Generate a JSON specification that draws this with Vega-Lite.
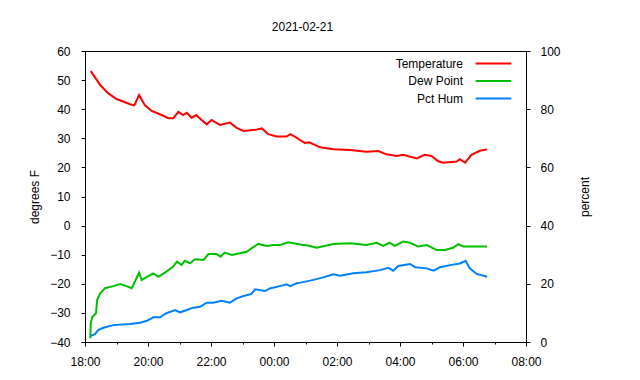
{
  "$schema": "https://vega.github.io/schema/vega-lite/v6.json",
  "width": 441,
  "height": 291,
  "autosize": {"type": "none"},
  "padding": {"left": 85, "top": 51, "right": 114, "bottom": 38},
  "background": "white",
  "title": {"text": "2021-02-21", "font": "Liberation Sans", "fontSize": 12, "fontWeight": "normal", "color": "black", "anchor": "middle", "offset": 11, "dx": -3},
  "config": {
    "view": {"stroke": "black", "strokeWidth": 1},
    "axis": {"grid": false, "domainColor": "black", "tickColor": "black", "labelColor": "black", "titleColor": "black", "labelFont": "Liberation Sans", "titleFont": "Liberation Sans", "labelFontSize": 12, "titleFontSize": 12, "titleFontWeight": "normal", "tickSize": 4, "domainWidth": 1, "tickWidth": 1}
  },
  "data": {
    "values": [
      {"time": "2021-02-21T18:11Z", "series": "Temperature", "value": 53.1},
      {"time": "2021-02-21T18:29Z", "series": "Temperature", "value": 48.3},
      {"time": "2021-02-21T18:44Z", "series": "Temperature", "value": 45.5},
      {"time": "2021-02-21T19:00Z", "series": "Temperature", "value": 43.5},
      {"time": "2021-02-21T19:26Z", "series": "Temperature", "value": 41.7},
      {"time": "2021-02-21T19:34Z", "series": "Temperature", "value": 41.3},
      {"time": "2021-02-21T19:43Z", "series": "Temperature", "value": 44.9},
      {"time": "2021-02-21T19:54Z", "series": "Temperature", "value": 41.4},
      {"time": "2021-02-21T20:07Z", "series": "Temperature", "value": 39.4},
      {"time": "2021-02-21T20:26Z", "series": "Temperature", "value": 38.0},
      {"time": "2021-02-21T20:39Z", "series": "Temperature", "value": 36.9},
      {"time": "2021-02-21T20:48Z", "series": "Temperature", "value": 36.9},
      {"time": "2021-02-21T20:58Z", "series": "Temperature", "value": 39.1},
      {"time": "2021-02-21T21:07Z", "series": "Temperature", "value": 38.0},
      {"time": "2021-02-21T21:14Z", "series": "Temperature", "value": 38.8},
      {"time": "2021-02-21T21:23Z", "series": "Temperature", "value": 37.1},
      {"time": "2021-02-21T21:32Z", "series": "Temperature", "value": 38.0},
      {"time": "2021-02-21T21:42Z", "series": "Temperature", "value": 36.3},
      {"time": "2021-02-21T21:52Z", "series": "Temperature", "value": 34.8},
      {"time": "2021-02-21T22:01Z", "series": "Temperature", "value": 36.3},
      {"time": "2021-02-21T22:17Z", "series": "Temperature", "value": 34.6},
      {"time": "2021-02-21T22:36Z", "series": "Temperature", "value": 35.4},
      {"time": "2021-02-21T22:49Z", "series": "Temperature", "value": 33.6},
      {"time": "2021-02-21T23:02Z", "series": "Temperature", "value": 32.5},
      {"time": "2021-02-21T23:24Z", "series": "Temperature", "value": 32.9},
      {"time": "2021-02-21T23:37Z", "series": "Temperature", "value": 33.4},
      {"time": "2021-02-21T23:49Z", "series": "Temperature", "value": 31.4},
      {"time": "2021-02-22T00:05Z", "series": "Temperature", "value": 30.6},
      {"time": "2021-02-22T00:24Z", "series": "Temperature", "value": 30.6},
      {"time": "2021-02-22T00:31Z", "series": "Temperature", "value": 31.4},
      {"time": "2021-02-22T00:43Z", "series": "Temperature", "value": 30.2},
      {"time": "2021-02-22T00:53Z", "series": "Temperature", "value": 29.0},
      {"time": "2021-02-22T00:59Z", "series": "Temperature", "value": 28.4},
      {"time": "2021-02-22T01:07Z", "series": "Temperature", "value": 28.6},
      {"time": "2021-02-22T01:28Z", "series": "Temperature", "value": 26.9},
      {"time": "2021-02-22T01:53Z", "series": "Temperature", "value": 26.2},
      {"time": "2021-02-22T02:25Z", "series": "Temperature", "value": 26.0},
      {"time": "2021-02-22T02:56Z", "series": "Temperature", "value": 25.4},
      {"time": "2021-02-22T03:19Z", "series": "Temperature", "value": 25.6},
      {"time": "2021-02-22T03:34Z", "series": "Temperature", "value": 24.5},
      {"time": "2021-02-22T03:54Z", "series": "Temperature", "value": 23.9},
      {"time": "2021-02-22T04:06Z", "series": "Temperature", "value": 24.3},
      {"time": "2021-02-22T04:32Z", "series": "Temperature", "value": 23.1},
      {"time": "2021-02-22T04:47Z", "series": "Temperature", "value": 24.3},
      {"time": "2021-02-22T05:00Z", "series": "Temperature", "value": 23.9},
      {"time": "2021-02-22T05:12Z", "series": "Temperature", "value": 22.2},
      {"time": "2021-02-22T05:22Z", "series": "Temperature", "value": 21.6},
      {"time": "2021-02-22T05:48Z", "series": "Temperature", "value": 22.0},
      {"time": "2021-02-22T05:54Z", "series": "Temperature", "value": 22.8},
      {"time": "2021-02-22T06:04Z", "series": "Temperature", "value": 21.6},
      {"time": "2021-02-22T06:16Z", "series": "Temperature", "value": 24.3},
      {"time": "2021-02-22T06:32Z", "series": "Temperature", "value": 25.7},
      {"time": "2021-02-22T06:46Z", "series": "Temperature", "value": 26.2},
      {"time": "2021-02-21T18:10Z", "series": "Dew Point", "value": -38.7},
      {"time": "2021-02-21T18:11Z", "series": "Dew Point", "value": -33.6},
      {"time": "2021-02-21T18:14Z", "series": "Dew Point", "value": -31.3},
      {"time": "2021-02-21T18:21Z", "series": "Dew Point", "value": -30.1},
      {"time": "2021-02-21T18:23Z", "series": "Dew Point", "value": -25.6},
      {"time": "2021-02-21T18:29Z", "series": "Dew Point", "value": -23.3},
      {"time": "2021-02-21T18:38Z", "series": "Dew Point", "value": -21.5},
      {"time": "2021-02-21T18:54Z", "series": "Dew Point", "value": -20.8},
      {"time": "2021-02-21T19:07Z", "series": "Dew Point", "value": -20.1},
      {"time": "2021-02-21T19:19Z", "series": "Dew Point", "value": -20.8},
      {"time": "2021-02-21T19:29Z", "series": "Dew Point", "value": -21.5},
      {"time": "2021-02-21T19:35Z", "series": "Dew Point", "value": -19.3},
      {"time": "2021-02-21T19:43Z", "series": "Dew Point", "value": -16.2},
      {"time": "2021-02-21T19:48Z", "series": "Dew Point", "value": -18.7},
      {"time": "2021-02-21T19:58Z", "series": "Dew Point", "value": -17.6},
      {"time": "2021-02-21T20:10Z", "series": "Dew Point", "value": -16.4},
      {"time": "2021-02-21T20:20Z", "series": "Dew Point", "value": -17.6},
      {"time": "2021-02-21T20:35Z", "series": "Dew Point", "value": -15.8},
      {"time": "2021-02-21T20:48Z", "series": "Dew Point", "value": -14.1},
      {"time": "2021-02-21T20:55Z", "series": "Dew Point", "value": -12.4},
      {"time": "2021-02-21T21:04Z", "series": "Dew Point", "value": -13.5},
      {"time": "2021-02-21T21:10Z", "series": "Dew Point", "value": -12.1},
      {"time": "2021-02-21T21:20Z", "series": "Dew Point", "value": -13.0},
      {"time": "2021-02-21T21:29Z", "series": "Dew Point", "value": -11.6},
      {"time": "2021-02-21T21:46Z", "series": "Dew Point", "value": -11.8},
      {"time": "2021-02-21T21:55Z", "series": "Dew Point", "value": -9.8},
      {"time": "2021-02-21T22:11Z", "series": "Dew Point", "value": -9.8},
      {"time": "2021-02-21T22:18Z", "series": "Dew Point", "value": -10.7},
      {"time": "2021-02-21T22:26Z", "series": "Dew Point", "value": -9.3},
      {"time": "2021-02-21T22:40Z", "series": "Dew Point", "value": -10.1},
      {"time": "2021-02-21T22:55Z", "series": "Dew Point", "value": -9.5},
      {"time": "2021-02-21T23:08Z", "series": "Dew Point", "value": -9.0},
      {"time": "2021-02-21T23:17Z", "series": "Dew Point", "value": -7.8},
      {"time": "2021-02-21T23:30Z", "series": "Dew Point", "value": -6.3},
      {"time": "2021-02-21T23:46Z", "series": "Dew Point", "value": -7.0},
      {"time": "2021-02-21T23:59Z", "series": "Dew Point", "value": -6.7},
      {"time": "2021-02-22T00:11Z", "series": "Dew Point", "value": -6.7},
      {"time": "2021-02-22T00:27Z", "series": "Dew Point", "value": -5.7},
      {"time": "2021-02-22T00:50Z", "series": "Dew Point", "value": -6.5},
      {"time": "2021-02-22T01:07Z", "series": "Dew Point", "value": -6.9},
      {"time": "2021-02-22T01:21Z", "series": "Dew Point", "value": -7.6},
      {"time": "2021-02-22T01:53Z", "series": "Dew Point", "value": -6.3},
      {"time": "2021-02-22T02:25Z", "series": "Dew Point", "value": -6.1},
      {"time": "2021-02-22T02:56Z", "series": "Dew Point", "value": -6.7},
      {"time": "2021-02-22T03:16Z", "series": "Dew Point", "value": -5.9},
      {"time": "2021-02-22T03:28Z", "series": "Dew Point", "value": -7.0},
      {"time": "2021-02-22T03:40Z", "series": "Dew Point", "value": -5.9},
      {"time": "2021-02-22T03:50Z", "series": "Dew Point", "value": -7.0},
      {"time": "2021-02-22T04:06Z", "series": "Dew Point", "value": -5.5},
      {"time": "2021-02-22T04:19Z", "series": "Dew Point", "value": -5.9},
      {"time": "2021-02-22T04:35Z", "series": "Dew Point", "value": -7.2},
      {"time": "2021-02-22T04:51Z", "series": "Dew Point", "value": -6.7},
      {"time": "2021-02-22T05:10Z", "series": "Dew Point", "value": -8.4},
      {"time": "2021-02-22T05:26Z", "series": "Dew Point", "value": -8.4},
      {"time": "2021-02-22T05:41Z", "series": "Dew Point", "value": -7.6},
      {"time": "2021-02-22T05:51Z", "series": "Dew Point", "value": -6.4},
      {"time": "2021-02-22T06:01Z", "series": "Dew Point", "value": -7.2},
      {"time": "2021-02-22T06:20Z", "series": "Dew Point", "value": -7.2},
      {"time": "2021-02-22T06:46Z", "series": "Dew Point", "value": -7.2},
      {"time": "2021-02-21T18:11Z", "series": "Pct Hum", "value": 2.1},
      {"time": "2021-02-21T18:19Z", "series": "Pct Hum", "value": 2.7},
      {"time": "2021-02-21T18:25Z", "series": "Pct Hum", "value": 4.1},
      {"time": "2021-02-21T18:35Z", "series": "Pct Hum", "value": 4.9},
      {"time": "2021-02-21T18:54Z", "series": "Pct Hum", "value": 5.8},
      {"time": "2021-02-21T19:26Z", "series": "Pct Hum", "value": 6.2},
      {"time": "2021-02-21T19:45Z", "series": "Pct Hum", "value": 6.6},
      {"time": "2021-02-21T19:58Z", "series": "Pct Hum", "value": 7.3},
      {"time": "2021-02-21T20:10Z", "series": "Pct Hum", "value": 8.5},
      {"time": "2021-02-21T20:23Z", "series": "Pct Hum", "value": 8.5},
      {"time": "2021-02-21T20:35Z", "series": "Pct Hum", "value": 9.9},
      {"time": "2021-02-21T20:52Z", "series": "Pct Hum", "value": 11.0},
      {"time": "2021-02-21T21:01Z", "series": "Pct Hum", "value": 10.2},
      {"time": "2021-02-21T21:14Z", "series": "Pct Hum", "value": 11.0},
      {"time": "2021-02-21T21:26Z", "series": "Pct Hum", "value": 11.8},
      {"time": "2021-02-21T21:39Z", "series": "Pct Hum", "value": 12.1},
      {"time": "2021-02-21T21:52Z", "series": "Pct Hum", "value": 13.5},
      {"time": "2021-02-21T22:04Z", "series": "Pct Hum", "value": 13.5},
      {"time": "2021-02-21T22:20Z", "series": "Pct Hum", "value": 14.2},
      {"time": "2021-02-21T22:36Z", "series": "Pct Hum", "value": 13.5},
      {"time": "2021-02-21T22:49Z", "series": "Pct Hum", "value": 15.0},
      {"time": "2021-02-21T23:02Z", "series": "Pct Hum", "value": 15.8},
      {"time": "2021-02-21T23:17Z", "series": "Pct Hum", "value": 16.5},
      {"time": "2021-02-21T23:24Z", "series": "Pct Hum", "value": 18.1},
      {"time": "2021-02-21T23:43Z", "series": "Pct Hum", "value": 17.5},
      {"time": "2021-02-21T23:52Z", "series": "Pct Hum", "value": 18.4},
      {"time": "2021-02-22T00:11Z", "series": "Pct Hum", "value": 19.2},
      {"time": "2021-02-22T00:24Z", "series": "Pct Hum", "value": 19.8},
      {"time": "2021-02-22T00:31Z", "series": "Pct Hum", "value": 19.2},
      {"time": "2021-02-22T00:43Z", "series": "Pct Hum", "value": 20.2},
      {"time": "2021-02-22T00:50Z", "series": "Pct Hum", "value": 20.4},
      {"time": "2021-02-22T01:07Z", "series": "Pct Hum", "value": 21.0},
      {"time": "2021-02-22T01:34Z", "series": "Pct Hum", "value": 22.2},
      {"time": "2021-02-22T01:53Z", "series": "Pct Hum", "value": 23.3},
      {"time": "2021-02-22T02:06Z", "series": "Pct Hum", "value": 22.8},
      {"time": "2021-02-22T02:31Z", "series": "Pct Hum", "value": 23.6},
      {"time": "2021-02-22T02:56Z", "series": "Pct Hum", "value": 24.0},
      {"time": "2021-02-22T03:22Z", "series": "Pct Hum", "value": 24.7},
      {"time": "2021-02-22T03:38Z", "series": "Pct Hum", "value": 25.5},
      {"time": "2021-02-22T03:47Z", "series": "Pct Hum", "value": 24.5},
      {"time": "2021-02-22T03:57Z", "series": "Pct Hum", "value": 26.1},
      {"time": "2021-02-22T04:19Z", "series": "Pct Hum", "value": 26.8},
      {"time": "2021-02-22T04:29Z", "series": "Pct Hum", "value": 25.7},
      {"time": "2021-02-22T04:51Z", "series": "Pct Hum", "value": 25.3},
      {"time": "2021-02-22T05:04Z", "series": "Pct Hum", "value": 24.5},
      {"time": "2021-02-22T05:16Z", "series": "Pct Hum", "value": 25.7},
      {"time": "2021-02-22T05:38Z", "series": "Pct Hum", "value": 26.5},
      {"time": "2021-02-22T05:54Z", "series": "Pct Hum", "value": 27.0},
      {"time": "2021-02-22T06:05Z", "series": "Pct Hum", "value": 27.9},
      {"time": "2021-02-22T06:13Z", "series": "Pct Hum", "value": 25.3},
      {"time": "2021-02-22T06:26Z", "series": "Pct Hum", "value": 23.4},
      {"time": "2021-02-22T06:46Z", "series": "Pct Hum", "value": 22.4}
    ]
  },
  "encoding": {
    "x": {
      "field": "time",
      "type": "temporal",
      "scale": {"type": "utc", "domain": [1613930400000, 1613980800000]},
      "axis": {
        "title": null,
        "values": [1613930400000, 1613934000000, 1613937600000, 1613941200000, 1613944800000, 1613948400000, 1613952000000, 1613955600000, 1613959200000, 1613962800000, 1613966400000, 1613970000000, 1613973600000, 1613977200000, 1613980800000],
        "labelExpr": "utchours(datum.value) % 2 == 0 ? utcFormat(datum.value, '%H:%M') : ''",
        "tickSize": {"condition": {"test": "utchours(datum.value) % 2 == 1", "value": 2}, "value": 4},
        "labelPadding": 10,
        "labelFlush": false,
        "labelOverlap": false
      }
    }
  },
  "layer": [
    {
      "transform": [{"filter": "datum.series != 'Pct Hum'"}],
      "mark": {"type": "line", "strokeWidth": 2},
      "encoding": {
        "y": {
          "field": "value",
          "type": "quantitative",
          "scale": {"domain": [-40, 60], "nice": false, "zero": false},
          "axis": {"title": "degrees F", "values": [-40, -30, -20, -10, 0, 10, 20, 30, 40, 50, 60], "labelPadding": 11, "titlePadding": 8}
        },
        "color": {
          "field": "series",
          "type": "nominal",
          "scale": {"domain": ["Temperature", "Dew Point", "Pct Hum"], "range": ["#ff0000", "#00c000", "#0080ff"]},
          "legend": {"orient": "none", "legendX": 399, "legendY": 3, "title": null, "padding": 0, "symbolType": "M-2.1,0H2.1", "symbolSize": 289, "symbolStrokeWidth": 2, "labelAlign": "right", "labelOffset": -40, "labelFont": "Liberation Sans", "labelFontSize": 12, "labelColor": "black", "rowPadding": 1.5}
        }
      }
    },
    {
      "transform": [{"filter": "datum.series == 'Pct Hum'"}],
      "mark": {"type": "line", "strokeWidth": 2},
      "encoding": {
        "y": {
          "field": "value",
          "type": "quantitative",
          "scale": {"domain": [0, 100], "nice": false},
          "axis": {"orient": "right", "title": "percent", "values": [0, 20, 40, 60, 80, 100], "labelPadding": 10, "titlePadding": 31, "titleAngle": 270}
        },
        "color": {"field": "series", "type": "nominal"}
      }
    }
  ],
  "resolve": {"scale": {"y": "independent"}}
}
